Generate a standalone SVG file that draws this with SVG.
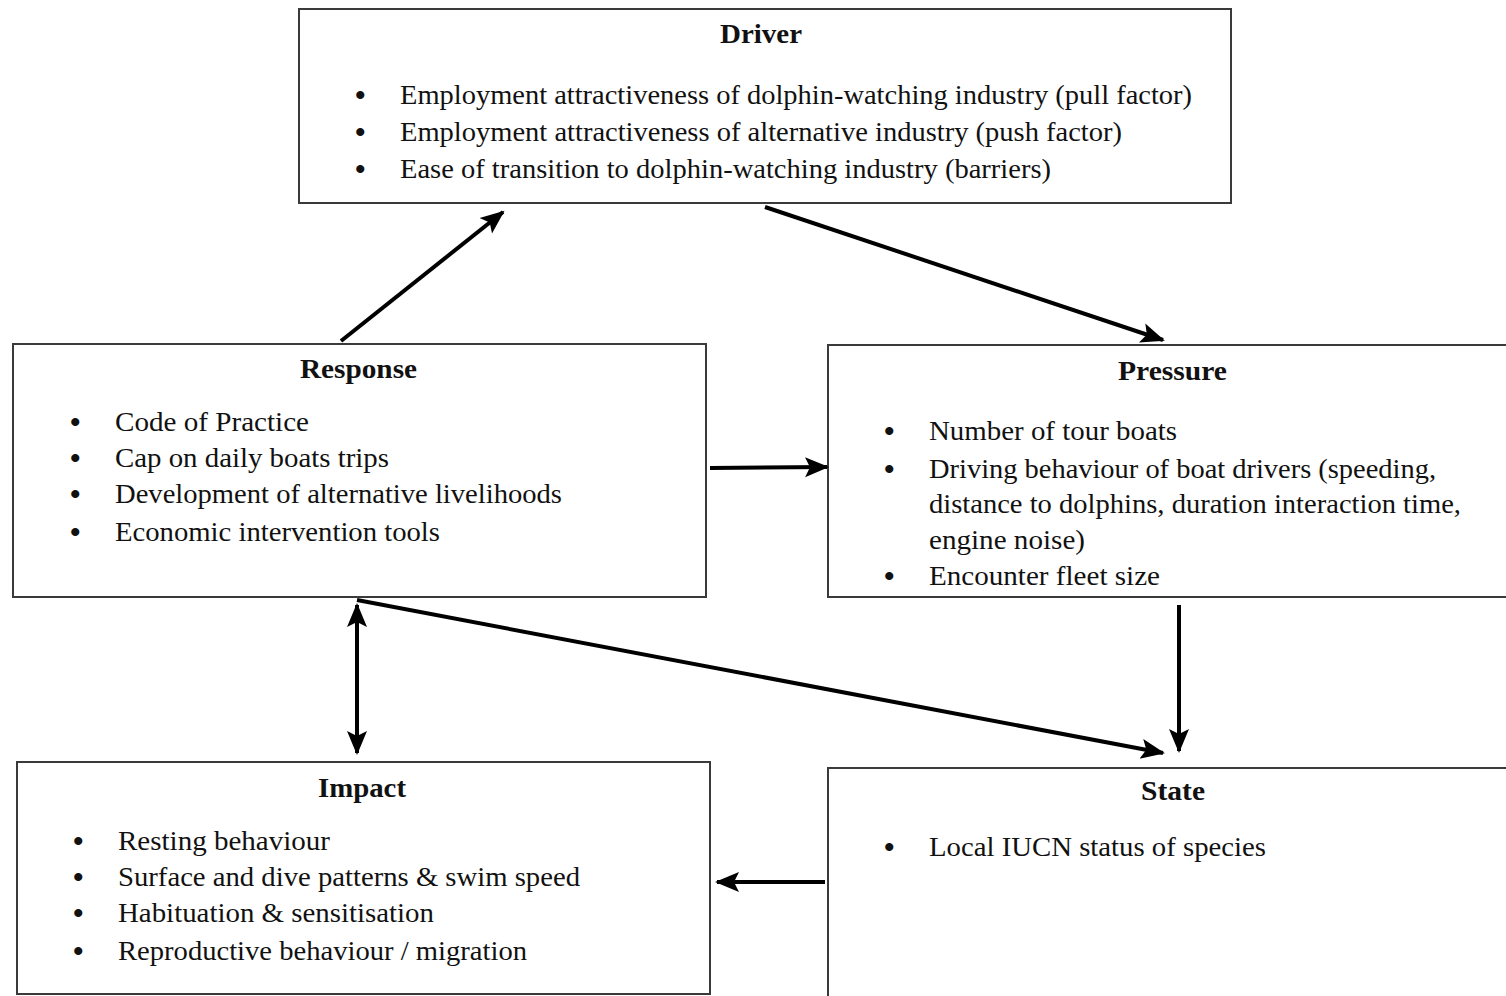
<svg xmlns="http://www.w3.org/2000/svg" width="1506" height="996" viewBox="0 0 1506 996">
<style>
.box{fill:#fff;stroke:#3a3a3a;stroke-width:2}
.t{font-family:"Liberation Serif","Times New Roman",serif;font-size:28px;fill:#111}
.h{font-family:"Liberation Serif","Times New Roman",serif;font-size:28px;font-weight:bold;fill:#111}
.b{font-family:"Liberation Serif","Times New Roman",serif;font-size:30px;font-weight:bold;fill:#111}
.c{stroke:#000;stroke-width:4;fill:none}
</style>
<defs>
<marker id="ah" markerUnits="userSpaceOnUse" markerWidth="26" markerHeight="22" refX="22" refY="10" orient="auto-start-reverse" viewBox="0 0 26 20">
<path d="M0,0 L24,10 L0,20 L5,10 Z" fill="#000"/>
</marker>
</defs>
<rect width="1506" height="996" fill="#fff"/>

<g id="driver">
<rect class="box" x="299" y="9" width="932" height="194"/>
<text class="h" x="720" y="43" textLength="82" lengthAdjust="spacingAndGlyphs">Driver</text>
<text class="b" x="355" y="105">•</text>
<text class="t" x="400" y="104" textLength="792" lengthAdjust="spacingAndGlyphs">Employment attractiveness of dolphin-watching industry (pull factor)</text>
<text class="b" x="355" y="142">•</text>
<text class="t" x="400" y="141" textLength="722" lengthAdjust="spacingAndGlyphs">Employment attractiveness of alternative industry (push factor)</text>
<text class="b" x="355" y="179">•</text>
<text class="t" x="400" y="178" textLength="651" lengthAdjust="spacingAndGlyphs">Ease of transition to dolphin-watching industry (barriers)</text>
</g>

<g id="response">
<rect class="box" x="13" y="344" width="693" height="253"/>
<text class="h" x="300" y="378" textLength="117" lengthAdjust="spacingAndGlyphs">Response</text>
<text class="b" x="70" y="432">•</text>
<text class="t" x="115" y="431" textLength="194" lengthAdjust="spacingAndGlyphs">Code of Practice</text>
<text class="b" x="70" y="468">•</text>
<text class="t" x="115" y="467" textLength="274" lengthAdjust="spacingAndGlyphs">Cap on daily boats trips</text>
<text class="b" x="70" y="504">•</text>
<text class="t" x="115" y="503" textLength="447" lengthAdjust="spacingAndGlyphs">Development of alternative livelihoods</text>
<text class="b" x="70" y="542">•</text>
<text class="t" x="115" y="541" textLength="325" lengthAdjust="spacingAndGlyphs">Economic intervention tools</text>
</g>

<g id="pressure">
<rect class="box" x="828" y="345" width="700" height="252"/>
<text class="h" x="1118" y="380" textLength="109" lengthAdjust="spacingAndGlyphs">Pressure</text>
<text class="b" x="884" y="441">•</text>
<text class="t" x="929" y="440" textLength="248" lengthAdjust="spacingAndGlyphs">Number of tour boats</text>
<text class="b" x="884" y="479">•</text>
<text class="t" x="929" y="478" textLength="507" lengthAdjust="spacingAndGlyphs">Driving behaviour of boat drivers (speeding,</text>
<text class="t" x="929" y="513" textLength="532" lengthAdjust="spacingAndGlyphs">distance to dolphins, duration interaction time,</text>
<text class="t" x="929" y="549" textLength="156" lengthAdjust="spacingAndGlyphs">engine noise)</text>
<text class="b" x="884" y="586">•</text>
<text class="t" x="929" y="585" textLength="231" lengthAdjust="spacingAndGlyphs">Encounter fleet size</text>
</g>

<g id="impact">
<rect class="box" x="17" y="762" width="693" height="232"/>
<text class="h" x="318" y="797" textLength="88" lengthAdjust="spacingAndGlyphs">Impact</text>
<text class="b" x="73" y="851">•</text>
<text class="t" x="118" y="850" textLength="212" lengthAdjust="spacingAndGlyphs">Resting behaviour</text>
<text class="b" x="73" y="887">•</text>
<text class="t" x="118" y="886" textLength="462" lengthAdjust="spacingAndGlyphs">Surface and dive patterns &amp; swim speed</text>
<text class="b" x="73" y="923">•</text>
<text class="t" x="118" y="922" textLength="316" lengthAdjust="spacingAndGlyphs">Habituation &amp; sensitisation</text>
<text class="b" x="73" y="961">•</text>
<text class="t" x="118" y="960" textLength="409" lengthAdjust="spacingAndGlyphs">Reproductive behaviour / migration</text>
</g>

<g id="state">
<rect class="box" x="828" y="768" width="700" height="250"/>
<text class="h" x="1141" y="800" textLength="64" lengthAdjust="spacingAndGlyphs">State</text>
<text class="b" x="884" y="857">•</text>
<text class="t" x="929" y="856" textLength="337" lengthAdjust="spacingAndGlyphs">Local IUCN status of species</text>
</g>

<g id="connectors">
<line class="c" x1="341" y1="341" x2="503" y2="212" marker-end="url(#ah)"/>
<line class="c" x1="765" y1="207" x2="1163" y2="340" marker-end="url(#ah)"/>
<line class="c" x1="710" y1="468" x2="827" y2="467" marker-end="url(#ah)"/>
<line class="c" x1="1179" y1="605" x2="1179" y2="751" marker-end="url(#ah)"/>
<line class="c" x1="357" y1="600" x2="1163" y2="753" marker-end="url(#ah)"/>
<line class="c" x1="357" y1="605" x2="357" y2="753" marker-start="url(#ah)" marker-end="url(#ah)"/>
<line class="c" x1="825" y1="882" x2="717" y2="882" marker-end="url(#ah)"/>
</g>
</svg>
